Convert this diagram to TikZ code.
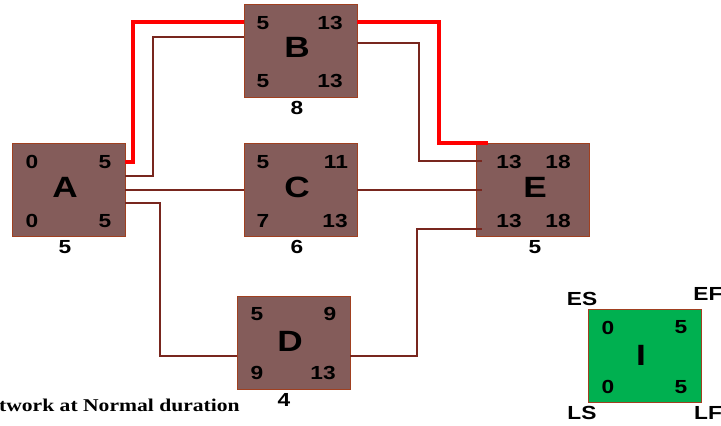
\documentclass[tikz,border=0pt]{standalone}
\usepackage{fontspec}
\setmainfont{Liberation Sans}[FakeStretch=1.2]
\newfontfamily\capfont{Liberation Serif}[FakeStretch=1.2]
\definecolor{boxfill}{RGB}{132,92,90}
\definecolor{boxedge}{RGB}{160,64,32}
\definecolor{linkc}{RGB}{120,38,30}
\definecolor{critc}{RGB}{255,0,0}
\definecolor{greenfill}{RGB}{0,176,80}
\begin{document}
\begin{tikzpicture}[x=0.75pt,y=-0.75pt,
  actbox/.style={draw=boxedge,line width=0.8pt,fill=boxfill,minimum width=84.75pt,minimum height=69.75pt,inner sep=0pt},
  num/.style={font=\bfseries\fontsize{14.2}{16}\selectfont,inner sep=0pt},
  big/.style={font=\bfseries\fontsize{22}{25}\selectfont,inner sep=0pt},
  link/.style={draw=linkc,line width=1.5pt},
  crit/.style={draw=critc,line width=2.4pt}]
\useasboundingbox (0,0) rectangle (721,425);
\clip (0,0) rectangle (721,425);
% boxes
\node[actbox,anchor=north west] (A) at (12,143) {};
\node[actbox,anchor=north west] (B) at (244,4) {};
\node[actbox,anchor=north west] (C) at (244,143) {};
\node[actbox,anchor=north west] (E) at (476,143) {};
\node[actbox,anchor=north west] (D) at (237,296) {};
\node[actbox,anchor=north west,fill=greenfill] (I) at (588,309) {};
% texts A
\node[big] (Al) at (65,187) {A};
\node[num] (A1) at (32,162) {0};
\node[num] (A2) at (105,162) {5};
\node[num] (A3) at (32,221) {0};
\node[num] (A4) at (105,221) {5};
\node[num] (Ad) at (65,247) {5};
% B
\node[big] (Bl) at (297,47) {B};
\node[num] (B1) at (263,23) {5};
\node[num] (B2) at (330,23) {13};
\node[num] (B3) at (263,81) {5};
\node[num] (B4) at (330,81) {13};
\node[num] (Bd) at (297,108) {8};
% C
\node[big] (Cl) at (297,187) {C};
\node[num] (C1) at (263,162) {5};
\node[num] (C2) at (336,162) {11};
\node[num] (C3) at (263,221) {7};
\node[num] (C4) at (335,221) {13};
\node[num] (Cd) at (297,247) {6};
% E
\node[big] (El) at (535,187) {E};
\node[num] (E1) at (509,162) {13};
\node[num] (E2) at (558,162) {18};
\node[num] (E3) at (509,221) {13};
\node[num] (E4) at (558,221) {18};
\node[num] (Ed) at (535,247) {5};
% D
\node[big] (Dl) at (290,341) {D};
\node[num] (D1) at (257,314) {5};
\node[num] (D2) at (330,314) {9};
\node[num] (D3) at (257,373) {9};
\node[num] (D4) at (323,373) {13};
\node[num] (Dd) at (284,400) {4};
% I legend
\node[big] (Il) at (641,355) {I};
\node[num] (I1) at (608,328) {0};
\node[num] (I2) at (681,327) {5};
\node[num] (I3) at (608,387) {0};
\node[num] (I4) at (681,387) {5};
\node[num] (ES) at (582,299) {ES};
\node[num] (EF) at (708,294) {EF};
\node[num] (LS) at (582,413) {LS};
\node[num] (LF) at (708,413) {LF};
% caption
\node[anchor=east,inner sep=0pt,font=\capfont\bfseries\fontsize{13.5}{16}\selectfont] (cap) at (240,405) {twork at Normal duration};
% coordinates for connectors
\coordinate (aR1) at (125,162);
\coordinate (aR2) at (125,176);
\coordinate (aR3) at (125,190);
\coordinate (aR4) at (125,203);
\coordinate (bL1) at (244,22);
\coordinate (bL2) at (244,37);
\coordinate (bR1) at (357,22);
\coordinate (bR2) at (357,43);
\coordinate (cL) at (244,190);
\coordinate (cR) at (357,190);
\coordinate (eT) at (488,143);
\coordinate (e1) at (482,161);
\coordinate (e2) at (482,190);
\coordinate (e3) at (482,229);
\coordinate (dL) at (237,356);
\coordinate (dR) at (350,356);
% links
\draw[link] (aR2) -- (153,176) -- (153,37) -- (bL2);
\draw[link] (bR2) -- (419,43) -- (419,161) -- (e1);
\draw[link] (aR3) -- (cL);
\draw[link] (cR) -- (e2);
\draw[link] (aR4) -- (160,203) -- (160,356) -- (dL);
\draw[link] (dR) -- (417,356) -- (417,229) -- (e3);
% critical path
\draw[crit] (aR1) -- (133,162) -- (133,22) -- (bL1);
\draw[crit] (bR1) -- (439,22) -- (439,143) -- (eT);
\end{tikzpicture}
\end{document}
